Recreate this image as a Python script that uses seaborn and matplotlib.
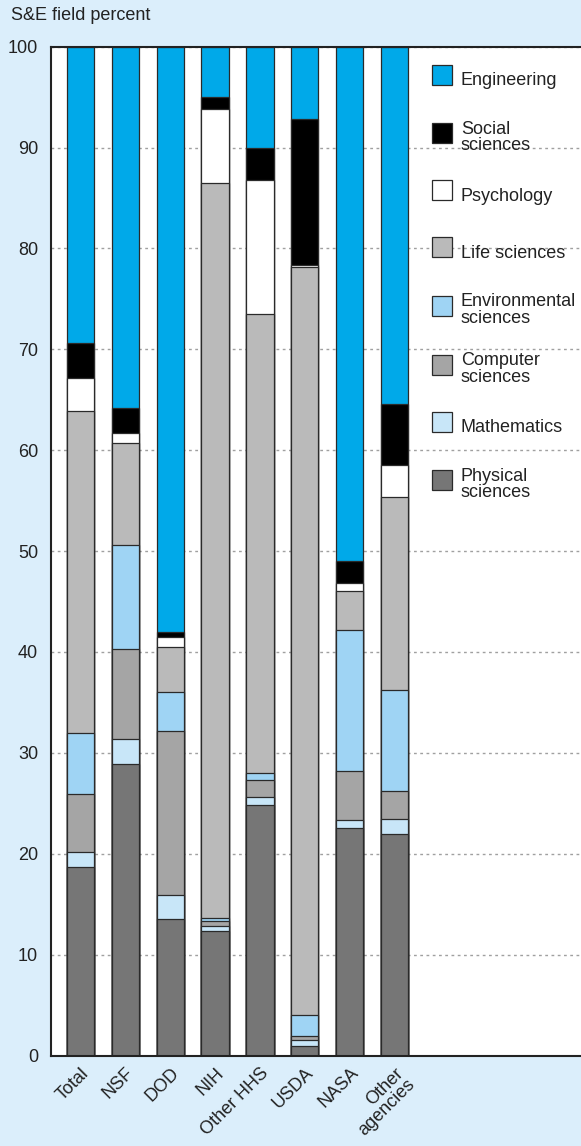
import matplotlib
matplotlib.use("Agg")
import matplotlib.pyplot as plt
import matplotlib.transforms as mtransforms
from matplotlib.lines import Line2D
import numpy as np
import pandas as pd
import seaborn as sns

# Federal academic S&E obligations by field, percent of each agency's total
agencies = ["Total", "NSF", "DOD", "NIH", "Other HHS", "USDA", "NASA", "Other\nagencies"]

physical      = [18.7, 28.9, 13.5, 12.3, 24.8, 0.9, 22.6, 22.0]
mathematics   = [1.5, 2.5, 2.4, 0.5, 0.8, 0.6, 0.7, 1.4]
computer      = [5.7, 8.9, 16.3, 0.5, 1.7, 0.4, 4.9, 2.8]
environmental = [6.1, 10.3, 3.8, 0.3, 0.7, 2.1, 14.0, 10.0]
life          = [31.9, 10.1, 4.5, 72.9, 45.5, 74.2, 3.8, 19.2]
psychology    = [3.3, 1.0, 1.0, 7.3, 13.3, 0.2, 0.8, 3.1]
social        = [3.4, 2.5, 0.5, 1.2, 3.2, 14.4, 2.2, 6.1]
engineering   = [29.4, 35.8, 58.0, 5.0, 10.0, 7.2, 51.0, 35.4]

# stacking order, bottom to top
fields = ["Physical\nsciences", "Mathematics", "Computer\nsciences",
          "Environmental\nsciences", "Life sciences", "Psychology",
          "Social\nsciences", "Engineering"]
series = [physical, mathematics, computer, environmental, life,
          psychology, social, engineering]
colors = ["#767676", "#c8e6f8", "#a5a5a5", "#9fd4f4", "#bababa",
          "#ffffff", "#000000", "#00a9e9"]

y_ticks = list(range(0, 101, 10))

plt.rcParams["font.family"] = ["Liberation Sans", "DejaVu Sans"]
plt.rcParams["text.color"] = "#222222"

W, H = 581, 1146
fig = plt.figure(figsize=(W / 100, H / 100), dpi=100)
fig.patch.set_facecolor("#dbeefb")
ax = fig.add_axes([50.5 / W, (H - 1055.5) / H, (W - 50.5) / W, (1055.5 - 46.7) / H])
ax.set_facecolor("white")

df = pd.DataFrame({"agency": agencies})
cum = np.cumsum(np.array(series), axis=0)

# draw cumulative heights from the top layer down so each segment shows
for i in range(len(fields) - 1, -1, -1):
    df["top"] = cum[i]
    sns.barplot(data=df, x="agency", y="top", order=agencies, color=colors[i],
                saturation=1, width=0.61, edgecolor="#2a2a2a", linewidth=0.9,
                ax=ax, zorder=2)

ax.set_xlim(-0.669, 11.16)
ax.set_ylim(0, 100)
ax.set_xlabel("")
ax.set_ylabel("")

ax.set_yticks(y_ticks)
ax.set_yticklabels([str(t) for t in y_ticks], fontsize=13)
ax.tick_params(axis="y", length=0, pad=9, colors="#222222")

ax.set_xticks(range(len(agencies)))
ax.set_xticklabels(agencies, fontsize=13, rotation=45, ha="right", va="top",
                   rotation_mode="anchor", linespacing=0.95)
ax.tick_params(axis="x", length=0, pad=6.5, colors="#222222")

ax.yaxis.grid(True, linestyle=(0, (2, 2.5)), color="#a0a0a0", linewidth=1)
ax.xaxis.grid(False)
ax.set_axisbelow(True)

for side in ["left", "bottom", "top"]:
    ax.spines[side].set_color("#222222")
    ax.spines[side].set_linewidth(1.5)
ax.spines["right"].set_visible(False)

fig.text(11 / W, 1 - 15 / H, "S&E field percent", ha="left", va="center",
         fontsize=13)

handles = [Line2D([], [], marker="s", linestyle="none", markersize=14.4,
                  markerfacecolor=c, markeredgecolor="#2a2a2a",
                  markeredgewidth=0.9)
           for c in colors[::-1]]
leg = ax.legend(handles, fields[::-1], loc="upper left",
                bbox_to_anchor=(431 / W, 1 - 64 / H),
                bbox_transform=fig.transFigure, frameon=False, fontsize=13,
                handlelength=1.2, handleheight=2.3, labelspacing=1.41,
                handletextpad=0.45, borderpad=0, borderaxespad=0)
for t in leg.get_texts():
    t.set_linespacing(0.95)

fig.savefig("out.png", dpi=100, facecolor=fig.get_facecolor())
